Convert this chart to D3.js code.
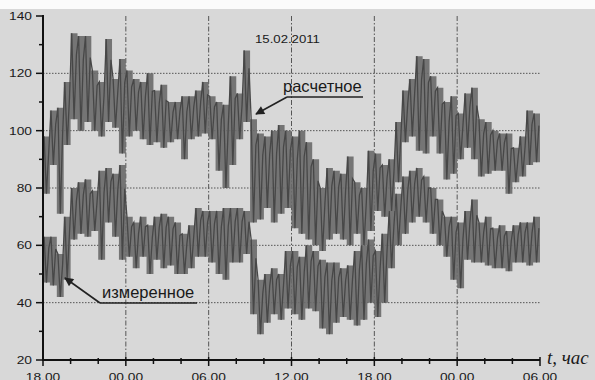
<!DOCTYPE html>
<html>
<head>
<meta charset="utf-8">
<script src="https://cdn.jsdelivr.net/npm/d3@7"></script>
<style>
  body { margin: 0; background: #fff; }
  svg { display: block; }
</style>
</head>
<body>
<script>
// half-hour bins starting 18.00 (14.02) as [low, high] per bin
const calcLo = [78, 88, 71, 95, 104, 100, 103, 100, 98, 103, 101, 92,
  98, 100, 97, 95, 96, 94, 96, 97, 90, 97, 98, 99,
  97, 86, 80, 88, 97, 103, 68, 69, 73, 68, 71, 73,
  66, 64, 62, 60, 58, 62, 64, 62, 60, 64, 60, 65,
  72, 70, 72, 82, 96, 98, 93, 92, 98, 92, 83, 85,
  90, 94, 90, 84, 85, 86, 86, 78, 82, 84, 88, 89];
const calcHi = [98, 107, 108, 117, 134, 133, 133, 121, 117, 132, 118, 125,
  121, 118, 117, 120, 114, 116, 110, 110, 112, 112, 114, 117,
  112, 110, 109, 119, 113, 128, 104, 99, 98, 100, 102, 100,
  98, 100, 96, 90, 80, 87, 86, 85, 91, 82, 80, 93,
  92, 88, 90, 103, 114, 118, 126, 125, 119, 115, 110, 112,
  106, 113, 115, 104, 103, 100, 99, 99, 94, 98, 107, 106];
const measLo = [47, 46, 42, 48, 62, 64, 63, 65, 55, 68, 63, 55,
  56, 52, 56, 50, 55, 52, 53, 50, 50, 52, 56, 56,
  54, 50, 48, 54, 54, 57, 36, 29, 33, 36, 34, 38,
  36, 34, 38, 37, 31, 29, 33, 35, 34, 32, 34, 40,
  35, 40, 52, 60, 64, 68, 70, 68, 64, 60, 56, 48,
  45, 55, 54, 54, 53, 52, 52, 51, 54, 54, 53, 54];
const measHi = [63, 63, 57, 70, 80, 82, 83, 79, 86, 87, 85, 88,
  70, 68, 70, 67, 70, 71, 70, 68, 64, 67, 73, 72,
  72, 72, 73, 73, 73, 72, 62, 48, 50, 52, 50, 58,
  58, 56, 60, 58, 55, 54, 54, 52, 53, 58, 60, 62,
  58, 64, 72, 78, 84, 86, 87, 84, 80, 76, 70, 70,
  68, 72, 76, 68, 70, 66, 67, 65, 67, 68, 68, 70];

const xLabels = ["18.00", "00.00", "06.00", "12.00", "18.00", "00.00", "06.00"];
const yTicks = [20, 40, 60, 80, 100, 120, 140];
const gridY = [40, 60, 80, 100, 120];
const gridX = [6, 12, 18, 24, 30];

const width = 595, height = 380;
const x = d3.scaleLinear().domain([0, 36]).range([43, 540]);
const y = d3.scaleLinear().domain([20, 140]).range([360, 16]);

const svg = d3.select("body").append("svg")
  .attr("width", width)
  .attr("height", height);

svg.append("defs").append("marker")
  .attr("id", "arr")
  .attr("viewBox", "0 0 10 10")
  .attr("refX", 9).attr("refY", 5)
  .attr("markerWidth", 12).attr("markerHeight", 9)
  .attr("markerUnits", "userSpaceOnUse")
  .attr("orient", "auto")
  .append("path")
  .attr("d", "M0,0 L10,5 L0,10 Z")
  .attr("fill", "#222");

// scanned paper background
svg.append("rect").attr("width", width).attr("height", height).attr("fill", "#d8d8d8");
svg.append("rect").attr("width", width).attr("height", 9).attr("fill", "#fbfbfb");

// grid
svg.append("g")
  .selectAll("line")
  .data(gridY)
  .join("line")
  .attr("x1", x(0)).attr("x2", x(36))
  .attr("y1", d => y(d)).attr("y2", d => y(d))
  .attr("stroke", "#555")
  .attr("stroke-width", 1)
  .attr("stroke-dasharray", "1.5,1.5");

svg.append("g")
  .selectAll("line")
  .data(gridX)
  .join("line")
  .attr("x1", d => x(d)).attr("x2", d => x(d))
  .attr("y1", y(140)).attr("y2", y(20))
  .attr("stroke", "#555")
  .attr("stroke-width", 1)
  .attr("stroke-dasharray", "5,2,1.5,2");

// series: a band of columns (low..high per bin) with a zigzag on top for the texture
function bins(lo, hi) {
  const pts = lo.map((l, i) => ({ t: i * 0.5, lo: l, hi: hi[i] }));
  pts.push({ t: 36, lo: lo[lo.length - 1], hi: hi[hi.length - 1] });
  return pts;
}
function zigzag(lo, hi) {
  const pts = [];
  lo.forEach((l, i) => {
    pts.push([i * 0.5 + 0.08, hi[i]]);
    pts.push([i * 0.5 + 0.25, l]);
    pts.push([i * 0.5 + 0.42, hi[i] - (hi[i] - l) * 0.25]);
  });
  return pts;
}
const area = d3.area()
  .curve(d3.curveStepAfter)
  .x(d => x(d.t))
  .y0(d => y(d.lo))
  .y1(d => y(d.hi));
const line = d3.line().x(d => x(d[0])).y(d => y(d[1]));

[[measLo, measHi], [calcLo, calcHi]].forEach(([lo, hi]) => {
  const g = svg.append("g");
  g.append("path")
    .datum(bins(lo, hi))
    .attr("d", area)
    .attr("fill", "#6a6a6a")
    .attr("fill-opacity", 0.9);
  g.append("path")
    .datum(zigzag(lo, hi))
    .attr("d", line)
    .attr("fill", "none")
    .attr("stroke", "#474747")
    .attr("stroke-width", 1.3);
});

// axes
const axis = svg.append("g").attr("stroke", "#111");
axis.append("line")
  .attr("x1", x(0)).attr("x2", x(0))
  .attr("y1", y(140) - 1).attr("y2", y(20) + 1)
  .attr("stroke-width", 2);
axis.append("line")
  .attr("x1", x(0) - 1).attr("x2", x(36))
  .attr("y1", y(20)).attr("y2", y(20))
  .attr("stroke-width", 2);

axis.selectAll(".ty")
  .data(d3.range(20, 141, 10))
  .join("line")
  .attr("x1", d => x(0) - (d % 20 === 0 ? 7 : 4)).attr("x2", x(0))
  .attr("y1", d => y(d)).attr("y2", d => y(d))
  .attr("stroke-width", 1.5);

axis.selectAll(".tx")
  .data(d3.range(0, 37, 2))
  .join("line")
  .attr("x1", d => x(d)).attr("x2", d => x(d))
  .attr("y1", d => y(20) - (d % 6 === 0 ? 3 : 2))
  .attr("y2", d => y(20) + (d % 6 === 0 ? 6 : 4))
  .attr("stroke-width", 1.5);

const font = "'Liberation Sans', Arial, sans-serif";

svg.append("g")
  .selectAll("text")
  .data(yTicks)
  .join("text")
  .attr("transform", d => `translate(32,${y(d) + 4}) scale(1.25,1)`)
  .attr("text-anchor", "end")
  .attr("font-family", font)
  .attr("font-size", 11)
  .attr("fill", "#1a1a1a")
  .text(d => d);

// the scan cuts the time labels at the bottom edge
svg.append("g")
  .selectAll("text")
  .data(xLabels)
  .join("text")
  .attr("transform", (d, i) => `translate(${x(i * 6)},381) scale(1.25,1)`)
  .attr("text-anchor", "middle")
  .attr("font-family", font)
  .attr("font-size", 11)
  .attr("fill", "#1a1a1a")
  .text(d => d);

svg.append("text")
  .attr("transform", "translate(255,43) scale(1.2,1)")
  .attr("font-family", font)
  .attr("font-size", 11)
  .attr("fill", "#1a1a1a")
  .text("15.02.2011");

svg.append("text")
  .attr("x", 547).attr("y", 364)
  .attr("font-family", "'Liberation Serif', 'Times New Roman', serif")
  .attr("font-style", "italic")
  .attr("font-size", 19)
  .attr("fill", "#1a1a1a")
  .text("t, час");

// callouts
const callouts = [
  { label: "расчетное", tx: 283, ty: 92, ux1: 287, ux2: 363, uy: 97, ax: 256, ay: 114 },
  { label: "измеренное", tx: 102, ty: 298, ux1: 100, ux2: 197, uy: 303, ax: 65, ay: 278 }
];
const co = svg.append("g");
co.selectAll("text")
  .data(callouts)
  .join("text")
  .attr("x", d => d.tx).attr("y", d => d.ty)
  .attr("font-family", font)
  .attr("font-size", 16.5)
  .attr("fill", "#1a1a1a")
  .text(d => d.label);
co.selectAll(".u")
  .data(callouts)
  .join("line")
  .attr("x1", d => d.ux1).attr("x2", d => d.ux2)
  .attr("y1", d => d.uy).attr("y2", d => d.uy)
  .attr("stroke", "#222").attr("stroke-width", 1.6);
co.selectAll(".a")
  .data(callouts)
  .join("line")
  .attr("x1", d => d.ux1).attr("y1", d => d.uy)
  .attr("x2", d => d.ax).attr("y2", d => d.ay)
  .attr("stroke", "#222").attr("stroke-width", 1.6)
  .attr("marker-end", "url(#arr)");
</script>
</body>
</html>
